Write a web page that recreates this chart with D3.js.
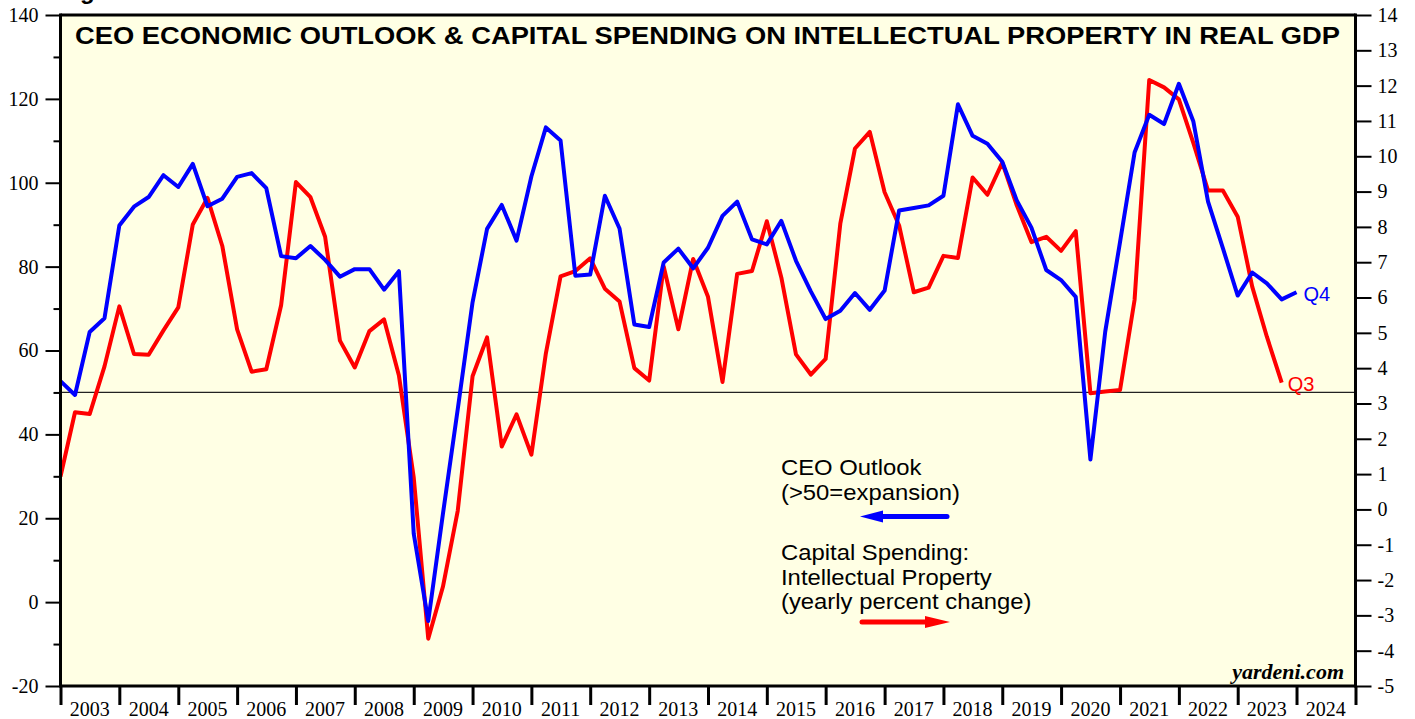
<!DOCTYPE html>
<html><head><meta charset="utf-8">
<script src="https://cdn.jsdelivr.net/npm/d3@7"></script>
<style>body{margin:0;background:#fff;} svg{display:block;}</style>
</head><body>
<svg id="chart" width="1415" height="719"></svg>
<script>
// ---------------- data ----------------
const title = "CEO ECONOMIC OUTLOOK & CAPITAL SPENDING ON INTELLECTUAL PROPERTY IN REAL GDP";
// quarterly, first observation = Q4 2002, plotted at quarter end
const firstQuarter = { year: 2002, quarter: 4 };
const ceoOutlook = [
  52.7, 49.4, 64.4, 67.7, 89.8, 94.3, 96.6, 101.8, 99.0, 104.5,
  94.4, 96.2, 101.4, 102.3, 98.7, 82.5, 82.0, 84.9, 81.6, 77.6,
  79.4, 79.4, 74.5, 78.9, 16.3, -4.5, 21.0, 46.0, 71.5, 89.0,
  94.7, 86.2, 101.5, 113.2, 110.1, 77.8, 78.1, 96.9, 89.1, 66.2,
  65.6, 81.0, 84.3, 79.6, 84.5, 92.1, 95.5, 86.5, 85.3, 90.9,
  81.4, 74.1, 67.5, 69.5, 73.7, 69.7, 74.3, 93.4, 94.0, 94.6,
  96.9, 118.7, 111.2, 109.3, 105.0, 95.8, 89.3, 79.2, 76.8, 72.8,
  34.0, 64.5, 85.9, 107.2, 116.2, 114.0, 123.6, 114.6, 95.5, 84.4,
  73.1, 78.6, 76.0, 72.2, 73.9
];
const ipSpending = [
  0.93, 2.75, 2.70, 4.05, 5.75, 4.40, 4.38, 5.07, 5.72, 8.07,
  8.82, 7.46, 5.10, 3.90, 3.97, 5.78, 9.27, 8.84, 7.72, 4.78,
  4.02, 5.05, 5.38, 3.79, 0.90, -3.66, -2.19, -0.04, 3.77, 4.87,
  1.78, 2.69, 1.55, 4.42, 6.60, 6.75, 7.11, 6.25, 5.89, 4.00,
  3.65, 6.88, 5.10, 7.09, 6.02, 3.61, 6.67, 6.75, 8.16, 6.57,
  4.39, 3.82, 4.26, 8.09, 10.22, 10.69, 8.98, 8.04, 6.15, 6.28,
  7.18, 7.12, 9.40, 8.91, 9.82, 8.61, 7.57, 7.72, 7.32, 7.88,
  3.29, 3.34, 3.38, 5.93, 12.16, 11.95, 11.61, 10.37, 9.03, 9.03,
  8.29, 6.31, 4.89, 3.59
];
const leftTicks = [-20, 0, 20, 40, 60, 80, 100, 120, 140];
const leftMinorTicks = [-10, 10, 30, 50, 70, 90, 110, 130];
const rightTicks = [-5, -4, -3, -2, -1, 0, 1, 2, 3, 4, 5, 6, 7, 8, 9, 10, 11, 12, 13, 14];
const yearLabels = [2003, 2004, 2005, 2006, 2007, 2008, 2009, 2010, 2011, 2012, 2013,
  2014, 2015, 2016, 2017, 2018, 2019, 2020, 2021, 2022, 2023, 2024];
const yearTicks = [...yearLabels, 2025];
const expansionLine = 50;
const ceoEndLabel = "Q4";
const ipEndLabel = "Q3";
const legendCeo = ["CEO Outlook", "(>50=expansion)"];
const legendIp = ["Capital Spending:", "Intellectual Property", "(yearly percent change)"];
const source = "yardeni.com";

// ---------------- drawing ----------------
const svg = d3.select("#chart");
const L = 60.5, R = 1355.5, T = 15, B = 686;
const blue = "#0000ff", red = "#ff0000";
const serif = "'Liberation Serif','Times New Roman',serif";
const sans = "'Liberation Sans',Arial,Helvetica,sans-serif";
const plainNum = d => String(d);

const quarterDate = i => new Date(firstQuarter.year, (firstQuarter.quarter) * 3 + i * 3, 1);
const x = d3.scaleTime().domain([new Date(2003, 0, 1), new Date(2025, 0, 1)]).range([L, R]);
const yL = d3.scaleLinear().domain([-20, 140]).range([B, T]);
const yR = d3.scaleLinear().domain([-5, 14]).range([B, T]);

svg.append("rect").attr("x", 0).attr("y", 0).attr("width", 1415).attr("height", 719).attr("fill", "#fff");
svg.append("rect").attr("x", L).attr("y", T).attr("width", R - L).attr("height", B - T).attr("fill", "#ffffe4");

// cut-off text at the very top (as in the source image)
svg.append("text").attr("x", 80).attr("y", -1).attr("font-family", sans).attr("font-weight", "bold")
  .attr("font-size", 24).text("g");

// title
svg.append("text").attr("x", 75).attr("y", 43.5)
  .attr("font-family", sans).attr("font-weight", "bold").attr("font-size", 24.5)
  .attr("textLength", 1265).attr("lengthAdjust", "spacingAndGlyphs")
  .text(title);

// reference line at 50
svg.append("line").attr("x1", L).attr("x2", R).attr("y1", yL(expansionLine)).attr("y2", yL(expansionLine))
  .attr("stroke", "#222").attr("stroke-width", 1.2);

svg.append("clipPath").attr("id", "plotclip").append("rect")
  .attr("x", L + 1).attr("y", T + 1).attr("width", R - L - 2).attr("height", B - T - 2);

const g = svg.append("g").attr("clip-path", "url(#plotclip)");
const lineL = d3.line().x((d, i) => x(quarterDate(i))).y(d => yL(d));
const lineR = d3.line().x((d, i) => x(quarterDate(i))).y(d => yR(d));
g.append("path").datum(ipSpending).attr("d", lineR).attr("fill", "none")
  .attr("stroke", red).attr("stroke-width", 4).attr("stroke-linejoin", "round");
g.append("path").datum(ceoOutlook).attr("d", lineL).attr("fill", "none")
  .attr("stroke", blue).attr("stroke-width", 4).attr("stroke-linejoin", "round");

// end labels
const lastC = ceoOutlook.length - 1, lastI = ipSpending.length - 1;
svg.append("text").attr("x", x(quarterDate(lastC)) + 7).attr("y", yL(ceoOutlook[lastC]) + 9)
  .attr("font-family", sans).attr("font-size", 20).attr("fill", blue).text(ceoEndLabel);
svg.append("text").attr("x", x(quarterDate(lastI)) + 6).attr("y", yR(ipSpending[lastI]) + 8.5)
  .attr("font-family", sans).attr("font-size", 20).attr("fill", red).text(ipEndLabel);

// legend
const lg = svg.append("g").attr("font-family", sans).attr("font-size", 22.5).attr("fill", "#000");
legendCeo.forEach((t, i) => lg.append("text")
  .attr("transform", `translate(781,${475 + i * 25}) scale(1.06,1)`).text(t));
legendIp.forEach((t, i) => lg.append("text")
  .attr("transform", `translate(781,${560 + i * 24.5}) scale(1.06,1)`).text(t));
// blue arrow (left)
lg.append("line").attr("x1", 947).attr("x2", 878).attr("y1", 516.5).attr("y2", 516.5)
  .attr("stroke", blue).attr("stroke-width", 5).attr("stroke-linecap", "round");
lg.append("path").attr("d", "M860,516.5 L883,510.5 L883,522.5 Z").attr("fill", blue);
// red arrow (right)
lg.append("line").attr("x1", 862).attr("x2", 930).attr("y1", 622).attr("y2", 622)
  .attr("stroke", red).attr("stroke-width", 5).attr("stroke-linecap", "round");
lg.append("path").attr("d", "M950,622 L925,616 L925,628 Z").attr("fill", red);

// source
svg.append("text").attr("x", 1344).attr("y", 679).attr("text-anchor", "end")
  .attr("font-family", serif).attr("font-weight", "bold").attr("font-style", "italic")
  .attr("font-size", 22).text(source);

// axes
function styleAxis(sel, w) {
  sel.select(".domain").remove();
  sel.selectAll(".tick line").attr("stroke", "#000").attr("stroke-width", w);
  sel.selectAll(".tick text").attr("font-family", serif).attr("font-size", 20).attr("fill", "#000");
}
svg.append("g").attr("transform", `translate(${L},0)`)
  .call(d3.axisLeft(yL).tickValues(leftMinorTicks).tickSize(7).tickFormat(""))
  .call(s => styleAxis(s, 2));
svg.append("g").attr("transform", `translate(${L},0)`)
  .call(d3.axisLeft(yL).tickValues(leftTicks).tickSize(15).tickPadding(7).tickFormat(plainNum))
  .call(s => styleAxis(s, 2));
svg.append("g").attr("transform", `translate(${R},0)`)
  .call(d3.axisRight(yR).tickValues(rightTicks).tickSize(16).tickPadding(6).tickFormat(plainNum))
  .call(s => styleAxis(s, 2));
svg.append("g").attr("transform", `translate(0,${B})`)
  .call(d3.axisBottom(x).tickValues(yearTicks.map(yv => new Date(yv, 0, 1))).tickSize(19).tickFormat(""))
  .call(s => styleAxis(s, 3));
svg.append("g").selectAll("text").data(yearLabels).join("text")
  .attr("x", d => x(new Date(d, 6, 1))).attr("y", 715.5).attr("text-anchor", "middle")
  .attr("font-family", serif).attr("font-size", 20).text(d => d);

// frame
const frame = svg.append("g").attr("stroke", "#000").attr("stroke-width", 3);
frame.append("line").attr("x1", L).attr("x2", L).attr("y1", T - 1.5).attr("y2", B + 1.5);
frame.append("line").attr("x1", R).attr("x2", R).attr("y1", T - 1.5).attr("y2", B + 1.5);
frame.append("line").attr("x1", L).attr("x2", R).attr("y1", T).attr("y2", T);
frame.append("line").attr("x1", L).attr("x2", R).attr("y1", B).attr("y2", B);
</script>
</body></html>
